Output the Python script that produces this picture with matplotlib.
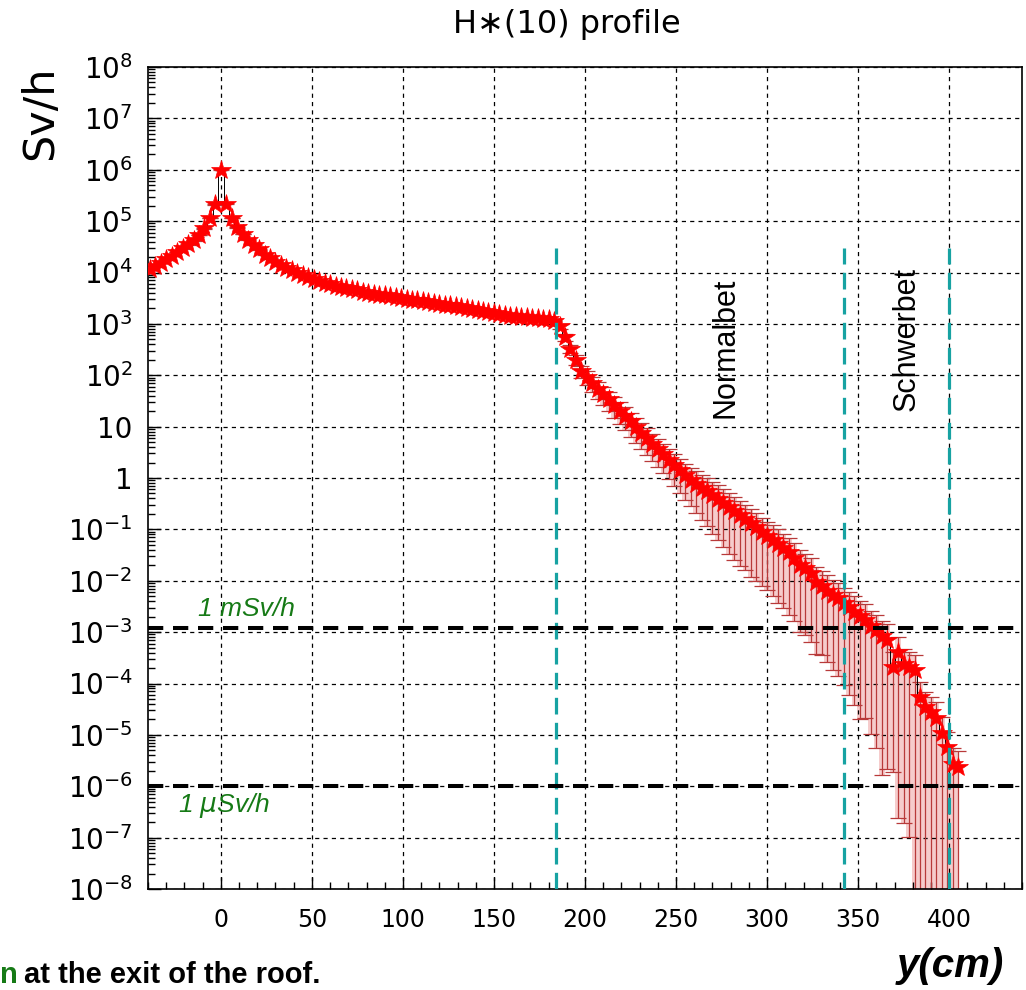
import numpy as np
import matplotlib
matplotlib.use("Agg")
import matplotlib.pyplot as plt
from matplotlib.ticker import FixedLocator, MultipleLocator, LogLocator, FuncFormatter, NullFormatter

plt.rcParams['font.family'] = ['DejaVu Sans']
plt.rcParams['mathtext.fontset'] = 'dejavusans'
plt.rcParams['lines.scale_dashes'] = False

# ---------------- data ----------------
bin_centers = np.arange(-39, 406, 3)          # cm, 3 cm bins

dose_log10 = [
    # -39 .. -3
    4.06, 4.12, 4.19, 4.26, 4.33, 4.40, 4.47, 4.55, 4.63, 4.73, 4.86, 5.06, 5.33,
    # 0
    6.00,
    # 3 .. 183
    5.34, 5.06, 4.88, 4.75, 4.64, 4.54, 4.45, 4.35, 4.28, 4.21,
    4.14, 4.09, 4.04, 3.99, 3.95, 3.91, 3.87, 3.83, 3.80, 3.77,
    3.74, 3.71, 3.69, 3.67, 3.65, 3.63, 3.61, 3.59, 3.57, 3.56,
    3.54, 3.52, 3.51, 3.49, 3.47, 3.46, 3.44, 3.42, 3.41, 3.39,
    3.37, 3.36, 3.34, 3.32, 3.31, 3.29, 3.27, 3.25, 3.23, 3.21,
    3.19, 3.17, 3.16, 3.15, 3.14, 3.13, 3.12, 3.11, 3.10, 3.09,
    3.06,
    # 186 .. 405
    2.95, 2.74, 2.52, 2.30, 2.08, 1.96, 1.85, 1.74, 1.63, 1.53,
    1.42, 1.31, 1.21, 1.10, 0.99, 0.88, 0.78, 0.67, 0.57, 0.47,
    0.36, 0.26, 0.16, 0.05, -0.03, -0.11, -0.19, -0.26, -0.34, -0.41,
    -0.49, -0.56, -0.64, -0.72, -0.80, -0.88, -0.96, -1.05, -1.13, -1.20,
    -1.28, -1.37, -1.45, -1.56, -1.70, -1.76, -1.84, -2.02, -2.10, -2.19,
    -2.28, -2.34, -2.43, -2.52, -2.60, -2.69, -2.76, -2.88, -2.96, -3.08,
    -3.15, -3.68, -3.39, -3.62, -3.68, -3.74, -4.27, -4.46, -4.56, -4.67,
    -4.96, -5.24, -5.56, -5.62,
]

rel_error = [0.02] * 75 + [
    0.10, 0.14, 0.18, 0.22, 0.26, 0.30, 0.33, 0.36, 0.39, 0.41,
    0.43, 0.45, 0.47, 0.49, 0.50, 0.52, 0.53, 0.55, 0.56, 0.57,
    0.59, 0.61, 0.64, 0.67, 0.70, 0.73, 0.76, 0.79, 0.82, 0.84,
    0.86, 0.88, 0.89, 0.90, 0.90, 0.91, 0.91, 0.91, 0.91, 0.92,
    0.93, 0.93, 0.94, 0.94, 0.95, 0.95, 0.955, 0.96, 0.955, 0.96,
    0.965, 0.97, 0.975, 0.98, 0.985, 0.99, 0.988, 0.992, 0.995, 0.998,
    0.997, 0.991, 0.9994, 0.9992, 0.9995, 1.0, 1.0, 1.0, 1.0, 1.0,
    1.0, 1.0, 1.0, 1.0,
]

wall_positions = [184, 342, 400]      # cyan dashed lines (cm)
wall_top = 3.0e4
limit_levels = [1.2e-3, 1.0e-6]       # 1 mSv/h, 1 uSv/h lines
x_ticks = [0, 50, 100, 150, 200, 250, 300, 350, 400]
y_decades = list(range(-8, 9))

# ---------------- derived ----------------
x = np.asarray(bin_centers, dtype=float)
dose = 10.0 ** np.asarray(dose_log10)
err = dose * np.asarray(rel_error)
lower = np.maximum(dose - err, 1e-11)
upper = dose + err

W, H = 1026, 990
fig = plt.figure(figsize=(W / 100, H / 100), dpi=100)
L, R, T, B = 148, 1022, 67, 889
ax = fig.add_axes([L / W, 1 - B / H, (R - L) / W, (B - T) / H])

ax.set_yscale('log')
ax.set_xlim(-40, 440)
ax.set_ylim(1e-8, 1e8)

# grid
ax.grid(which='major', color='black', linestyle=(0, (3, 3)), linewidth=0.9, zorder=0)

# error band shading + error bars
tail = x >= 186
ax.fill_between(x[tail], lower[tail], upper[tail], step='mid', color='#f6cccc',
                linewidth=0, zorder=1)
ax.errorbar(x, dose, yerr=[dose - lower, upper - dose], fmt='none',
            ecolor='#b83a3a', elinewidth=0.9, capsize=5.5, capthick=0.9, zorder=2)
ax.plot(x, dose, drawstyle='steps-mid', color='black', lw=0.7, zorder=3)
ax.plot(x, dose, linestyle='none', marker='*', markersize=15, color='#ff0000',
        markeredgecolor='#ff0000', markeredgewidth=0.5, zorder=4)

# reference lines
for xv in wall_positions:
    ax.plot([xv, xv], [1e-8, wall_top], color='#17a2a2', lw=2.3,
            linestyle=(0, (12, 6)), zorder=5)
for yv in limit_levels:
    ax.axhline(yv, color='black', lw=2.9, linestyle=(0, (11, 7)), zorder=5)

# ticks
ax.xaxis.set_major_locator(FixedLocator(x_ticks))
ax.xaxis.set_minor_locator(MultipleLocator(10))
ax.yaxis.set_major_locator(FixedLocator([10.0 ** d for d in y_decades]))
ax.yaxis.set_minor_locator(LogLocator(base=10, subs=np.arange(2, 10), numticks=200))
ax.yaxis.set_minor_formatter(NullFormatter())


def ylab(v, pos):
    d = int(round(np.log10(v)))
    if d == 0:
        return '1'
    if d == 1:
        return '10'
    return r'$10^{%d}$' % d


ax.yaxis.set_major_formatter(FuncFormatter(ylab))
ax.tick_params(axis='both', which='both', direction='in', top=False, right=False)
ax.tick_params(axis='both', which='major', length=9, width=1.0)
ax.tick_params(axis='both', which='minor', length=5, width=1.0)
ax.tick_params(axis='x', which='major', labelsize=17, pad=14)
ax.tick_params(axis='y', which='major', labelsize=20, pad=11)
for s in ax.spines.values():
    s.set_linewidth(1.2)


def fx(px):
    return px / W


def fy(py):
    return 1 - py / H


# texts
fig.text(fx(567), fy(25), 'H\u2217(10) profile', ha='center', va='center', fontsize=23)
fig.text(fx(40), fy(113), 'Sv/h', ha='center', va='center', rotation=90, fontsize=31)
fig.text(fx(726), fy(348), 'Normalbet', ha='center', va='center', rotation=90,
         fontsize=22, family='Liberation Sans')
fig.text(fx(907), fy(339), 'Schwerbet', ha='center', va='center', rotation=90,
         fontsize=22, family='Liberation Sans')
fig.text(fx(198), fy(616), '1 mSv/h', ha='left', va='baseline', fontsize=19,
         style='italic', color='#167a16', family='Liberation Sans')
fig.text(fx(178), fy(812), '1 $\\mu$Sv/h', ha='left', va='baseline', fontsize=19,
         style='italic', color='#167a16', family='Liberation Sans')
fig.text(fx(950), fy(966), 'y(cm)', ha='center', va='center', fontsize=29,
         style='italic', weight='bold', family='Liberation Sans')
fig.text(fx(0), fy(983), 'n', ha='left', va='baseline', fontsize=21,
         weight='bold', color='#167a16', family='Liberation Sans')
fig.text(fx(24), fy(983), 'at the exit of the roof.', ha='left', va='baseline', fontsize=21,
         weight='bold', family='Liberation Sans')

fig.savefig('out.png', dpi=100)
